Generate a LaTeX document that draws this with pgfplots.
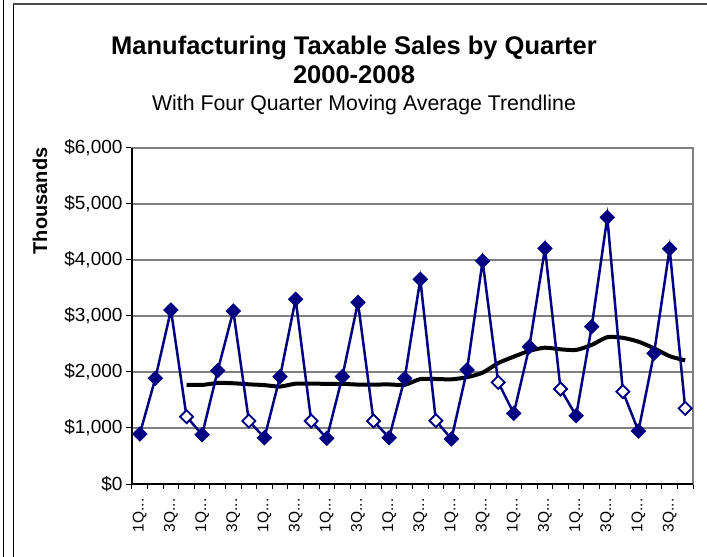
\documentclass[border=0pt]{standalone}
\usepackage{pgfplots}
\pgfplotsset{compat=1.18}
\usepackage{fontspec}
\setmainfont{Liberation Sans}

\definecolor{xlnavy}{RGB}{0,0,128}
\definecolor{gridgray}{RGB}{128,128,128}

\newcommand{\qa}{1Q.{}.{}.}
\newcommand{\qc}{3Q.{}.{}.}

\begin{document}
\begin{tikzpicture}[x=1pt,y=1pt]
\useasboundingbox (0,0) rectangle (707,557);
\fill[white] (0,0) rectangle (707,557);
% page frame bits
\draw[black, line width=1pt] (3.5,0) -- (3.5,557);
\draw[black, line width=1pt] (13.5,0) -- (13.5,553);
\draw[black!70, line width=1.5pt] (13,553) -- (707,553);

% titles
\node[font=\fontsize{25.5}{30}\selectfont\bfseries, anchor=base] at (354,502) {Manufacturing Taxable Sales by Quarter};
\node[font=\fontsize{25.5}{30}\selectfont\bfseries, anchor=base] at (354,473) {2000-2008};
\node[font=\fontsize{21.3}{25}\selectfont, anchor=base] at (364,446) {With Four Quarter Moving Average Trendline};
\node[font=\fontsize{20}{24}\selectfont\bfseries, rotate=90] at (40,356) {Thousands};

\begin{axis}[
    at={(132pt,73pt)}, anchor=south west,
    width=561pt, height=336pt, scale only axis,
    xmin=0.5, xmax=36.5,
    ymin=0, ymax=6000,
    ytick={0,1000,...,6000},
    yticklabels={{\$0},{\$1,000},{\$2,000},{\$3,000},{\$4,000},{\$5,000},{\$6,000}},
    xtick={1,3,5,7,9,11,13,15,17,19,21,23,25,27,29,31,33,35},
    xticklabels={{\qa},{\qc},{\qa},{\qc},{\qa},{\qc},{\qa},{\qc},{\qa},{\qc},{\qa},{\qc},{\qa},{\qc},{\qa},{\qc},{\qa},{\qc}},
    minor xtick={0.5,1.5,...,36.5},
    every major x tick/.append style={draw=none},
    tick pos=left,
    tick align=outside,
    major tick length=6pt, minor tick length=5pt,
    tick style={black, line width=1pt},
    ymajorgrids,
    major grid style={gridgray, line width=1.5pt},
    axis line style={gridgray, line width=2pt},
    yticklabel style={font=\fontsize{19}{22}\selectfont},
    xticklabel style={font=\fontsize{15.5}{18}\selectfont, rotate=90, anchor=east},
    xticklabel shift=5pt,
    clip mode=individual,
]
% four quarter moving average
\addplot[black, line width=4pt, smooth, tension=0.4] coordinates {
 (4,1772) (5,1769) (6,1804) (7,1799) (8,1780) (9,1766) (10,1740) (11,1792)
 (12,1792) (13,1789) (14,1789) (15,1775) (16,1775) (17,1778) (18,1771)
 (19,1874) (20,1875) (21,1869) (22,1907) (23,1988) (24,2159) (25,2274)
 (26,2378) (27,2434) (28,2405) (29,2394) (30,2484) (31,2622) (32,2610)
 (33,2542) (34,2423) (35,2283) (36,2208)
};
% quarterly sales
\addplot[xlnavy, line width=2.5pt, mark=square*, mark size=5pt,
    mark options={rotate=45, fill=xlnavy, line width=1pt}] coordinates {
 (1,893) (2,1887) (3,3107) (4,1202)
 (5,881) (6,2024) (7,3089) (8,1125)
 (9,827) (10,1917) (11,3298) (12,1125)
 (13,815) (14,1917) (15,3244) (16,1125)
 (17,827) (18,1887) (19,3655) (20,1131)
 (21,804) (22,2036) (23,3982) (24,1815)
 (25,1262) (26,2452) (27,4208) (28,1696)
 (29,1220) (30,2810) (31,4762) (32,1649)
 (33,946) (34,2333) (35,4202) (36,1351)
};
% fourth quarters drawn open
\addplot[only marks, mark=square*, mark size=4.4pt,
    mark options={rotate=45, fill=white, draw=xlnavy, line width=1.5pt}] coordinates {
 (4,1202) (8,1125) (12,1125) (16,1125) (20,1131) (24,1815) (28,1696) (32,1649) (36,1351)
};
\draw[black, line width=2pt] (rel axis cs:0,1) -- (rel axis cs:0,0) -- (rel axis cs:1,0);
\end{axis}
\end{tikzpicture}
\end{document}
